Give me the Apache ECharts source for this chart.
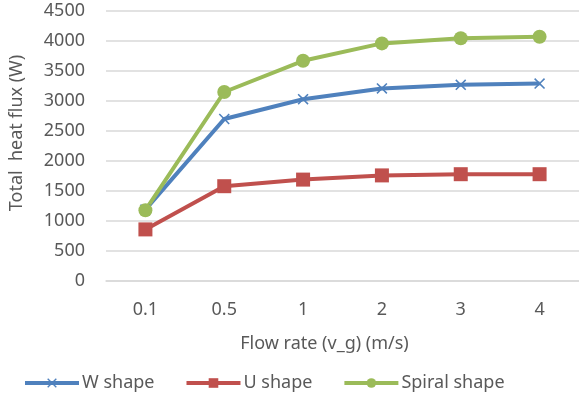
<!DOCTYPE html>
<html><head><meta charset="utf-8">
<script src="https://cdn.jsdelivr.net/npm/echarts@6/dist/echarts.min.js"></script>
<style>html,body{margin:0;padding:0;background:#fff}#c{width:579px;height:396px}</style>
</head><body><div id="c"></div>
<script>
const categories = ['0.1', '0.5', '1', '2', '3', '4'];
const wShape = [1190, 2700, 3030, 3210, 3270, 3290];
const uShape = [860, 1580, 1690, 1760, 1780, 1780];
const spiralShape = [1180, 3150, 3670, 3960, 4045, 4070];
const yTicks = { min: 0, max: 4500, interval: 500 };

const font = 'Noto Sans, Liberation Sans, sans-serif';
const txt = '#595959';
const crossPath = 'path://M0,1 L1,0 L5,4 L9,0 L10,1 L6,5 L10,9 L9,10 L5,6 L1,10 L0,9 L4,5 Z';

const chart = echarts.init(document.getElementById('c'), null, {renderer: 'canvas'});
chart.setOption({
  animation: false,
  color: ['#4F81BD', '#C0504D', '#9BBB59'],
  grid: { left: 106, top: 11, width: 474, height: 270, containLabel: false },
  xAxis: {
    type: 'category', data: categories, boundaryGap: true,
    axisLine: { show: true, lineStyle: { color: '#D9D9D9', width: 1.5 } },
    axisTick: { show: false },
    axisLabel: { color: txt, fontSize: 18, fontFamily: font, margin: 20 },
    name: 'Flow rate (v_g) (m/s)', nameLocation: 'middle', nameGap: 54,
    nameTextStyle: { color: txt, fontSize: 18, fontFamily: font, padding: [0, 36, 0, 0] }
  },
  yAxis: {
    type: 'value', min: yTicks.min, max: yTicks.max, interval: yTicks.interval,
    axisLine: { show: false }, axisTick: { show: false },
    splitLine: { lineStyle: { color: '#D9D9D9', width: 1.5 } },
    axisLabel: { color: txt, fontSize: 18, fontFamily: font, margin: 21, formatter: v => String(v) },
    name: 'Total  heat flux (W)', nameLocation: 'middle', nameGap: 80,
    nameTextStyle: { color: txt, fontSize: 18, fontFamily: font, padding: [0, 0, 0, 26] }
  },
  legend: {
    top: 369, left: 18, itemWidth: 54, itemHeight: 12, itemGap: 30,
    lineStyle: { width: 4 },
    textStyle: { color: txt, fontSize: 18, fontFamily: font, padding: [0,0,0,-2] },
    data: ['W shape', 'U shape', 'Spiral shape']
  },
  series: [
    { name: 'W shape', type: 'line', data: wShape, symbol: crossPath, symbolSize: 11,
      lineStyle: { width: 4 }, itemStyle: { color: '#4F81BD' } },
    { name: 'U shape', type: 'line', data: uShape, symbol: 'rect', symbolSize: 14,
      lineStyle: { width: 4 }, itemStyle: { color: '#C0504D' } },
    { name: 'Spiral shape', type: 'line', data: spiralShape, symbol: 'circle', symbolSize: 14,
      lineStyle: { width: 4 }, itemStyle: { color: '#9BBB59' } }
  ]
});
</script></body></html>
